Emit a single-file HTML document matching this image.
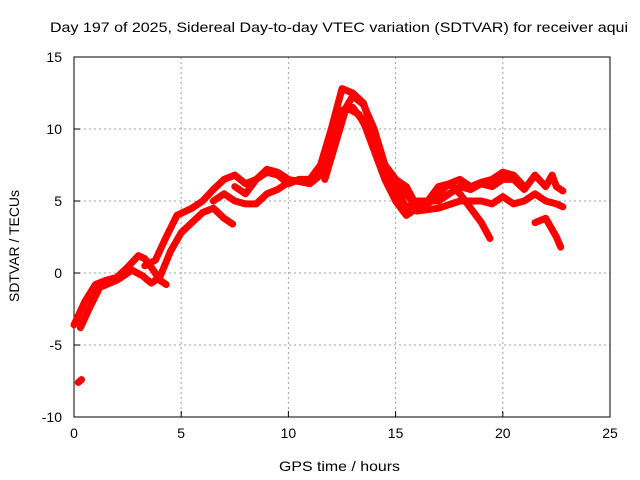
<!DOCTYPE html>
<html><head><meta charset="utf-8"><style>
body{margin:0;background:#fff}
svg{display:block;font-family:"Liberation Sans",sans-serif}
</style></head><body>
<svg id="chart" width="640" height="480">
<text x="50" y="32" font-size="14" textLength="578" lengthAdjust="spacingAndGlyphs">Day 197 of 2025, Sidereal Day-to-day VTEC variation (SDTVAR) for receiver aqui</text>
<g id="grid"></g><g id="axes"></g><g id="data"></g>
<text x="279" y="471" font-size="14" textLength="121" lengthAdjust="spacingAndGlyphs">GPS time / hours</text>
<text transform="translate(19,302) rotate(-90)" font-size="14" textLength="112" lengthAdjust="spacingAndGlyphs">SDTVAR / TECUs</text>
</svg>
<script>
const xTicks=[0,5,10,15,20,25];
const yTicks=[-10,-5,0,5,10,15];
const track1=[[0,-3.6],[0.5,-2],[1,-0.8],[1.5,-0.5],[2,-0.3],[2.5,0.4],[3,1.2],[3.3,1.0],[3.7,0.2],[4.0,-0.5],[4.3,-0.8]];
const track2=[[0.3,-3.8],[0.7,-2.5],[1.2,-1],[2,-0.5],[2.7,0.2],[3.2,-0.2],[3.6,-0.7],[4,-0.3],[4.5,1.5],[5,2.8],[5.5,3.5],[6,4.2],[6.5,4.5],[7,3.8],[7.4,3.4]];
const track3=[[3.3,0.5],[3.8,0.9],[4.3,2.5],[4.8,4],[5.5,4.5],[6,5],[6.5,5.8],[7,6.5],[7.5,6.8],[8,6.2],[8.5,6.5],[9,7],[9.5,6.8],[10,6.2],[10.5,6.5],[11,6.5],[11.5,7.5],[12,10],[12.5,12.8],[13,12.5],[13.5,11.8],[14,9.5],[14.5,7.5],[15,6.5],[15.5,5.5],[16,4.5],[16.5,4.8],[17,5.5],[17.5,6.2],[18,6.5],[18.5,6],[19,6.3],[19.5,6.5],[20,7],[20.5,6.8],[21,6]];
const track4=[[12,8],[12.5,11.3],[13,11.5],[13.5,10.5],[14,8.5],[14.5,6.5],[15,5],[15.5,4],[16,4.5],[16.5,5],[17,6],[17.5,6.2],[18,5.5],[18.5,4.5],[19,3.5],[19.4,2.4]];
const track5=[[11.7,6.5],[12.2,9],[12.7,11.5],[13.3,11],[14,9],[14.5,7],[15,6],[15.5,4.5],[16,5],[17,5],[17.5,5.5],[18,6],[18.5,5.8],[19,6.2],[19.5,6],[20,6.5],[20.5,6.5],[21,5.8],[21.5,6.8],[22,6],[22.3,6.8],[22.5,6],[22.8,5.7]];
const track6=[[16,4.3],[17,4.5],[18,5],[19,5],[19.5,4.8],[20,5.3],[20.5,4.8],[21,5],[21.5,5.5],[22,5],[22.5,4.8],[22.8,4.6]];
const track7=[[21.5,3.5],[22,3.8],[22.5,2.5],[22.7,1.8]];
const track8=[[6.5,5],[7,5.5],[7.5,5],[8,4.8],[8.5,4.8],[9,5.5],[9.5,5.8],[10,6.3]];
const track9=[[7.5,6],[8,5.5],[8.5,6.5],[9,7.2],[9.5,7],[10,6.5],[11,6.2],[11.5,6.8],[12,8.5],[12.5,11],[13,12.3],[13.5,11.7],[14,10],[14.5,7.5],[15,6.5],[15.5,6],[16,4.6]];
const track10=[[0.2,-7.6],[0.35,-7.4]];
const tracks=[track1,track2,track3,track4,track5,track6,track7,track8,track9,track10];
const X0=74,X1=610,Y0=417,Y1=57;
const xs=t=>X0+(t-0)/(25-0)*(X1-X0);
const ys=v=>Y0-(v+10)/(25)*(Y0-Y1);
const NS='http://www.w3.org/2000/svg';
function mk(tag,attrs,parent){const e=document.createElementNS(NS,tag);for(const k in attrs)e.setAttribute(k,attrs[k]);parent.appendChild(e);return e;}
const grid=document.getElementById('grid'),axes=document.getElementById('axes'),data=document.getElementById('data');
xTicks.forEach(t=>{const x=xs(t);
 if(t>0&&t<25){const g=mk('line',{x1:x,x2:x,y1:Y1,y2:Y0,stroke:'#a0a0a0','stroke-dasharray':'2,3'},grid);
 
 }
 const tk=mk('line',{x1:x,x2:x,y1:Y0,y2:Y0-6,stroke:'#000'},axes);
 
 
 const tx=mk('text',{x:x,y:Y0+21,'text-anchor':'middle','font-size':14},axes);tx.textContent=t;
 
 
});
yTicks.forEach(v=>{const y=ys(v);
 if(v>-10&&v<15){const g=mk('line',{x1:X0,x2:X1,y1:y,y2:y,stroke:'#a0a0a0','stroke-dasharray':'2,3'},grid);
 
 }
 const tk=mk('line',{x1:X0,x2:X0+6,y1:y,y2:y,stroke:'#000'},axes);
 
 
 const tx=mk('text',{x:X0-12,y:y+5,'text-anchor':'end','font-size':14},axes);tx.textContent=v;
 
 
});
const fr=mk('rect',{x:X0,y:Y1,width:X1-X0,height:Y0-Y1,fill:'none',stroke:'#000'},axes);


tracks.forEach((tr,i)=>{
 const p=mk('polyline',{points:tr.map(d=>xs(d[0])+','+ys(d[1])).join(' '),fill:'none',stroke:'#ff0000','stroke-width':7,'stroke-linejoin':'round','stroke-linecap':'round'},data);
 
 
});
</script>
</body></html>
